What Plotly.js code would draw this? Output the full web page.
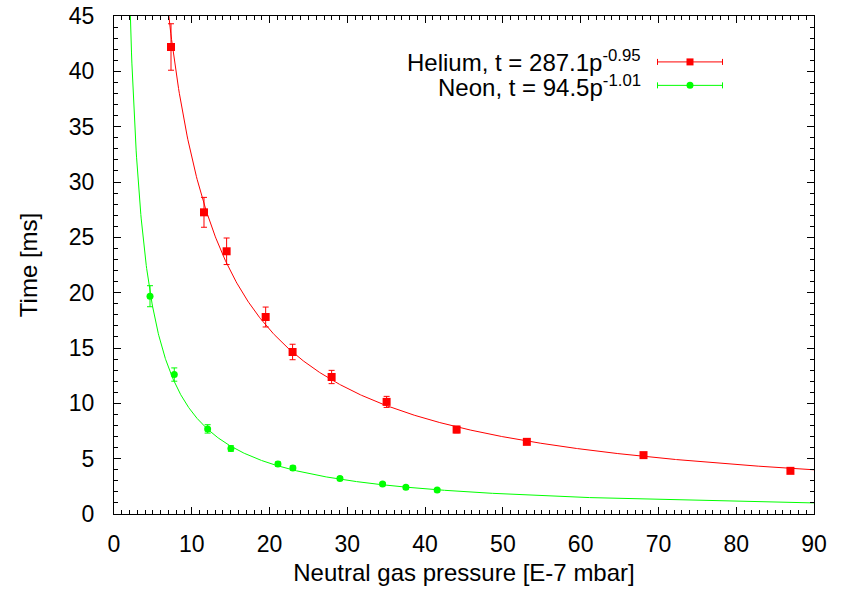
<!DOCTYPE html>
<html>
<head>
<meta charset="utf-8">
<script src="https://cdn.plot.ly/plotly-3.0.1.min.js"></script>
<style>html,body{margin:0;padding:0;background:#fff;}#chart{width:844px;height:590px;}</style>
</head>
<body>
<div id="chart"></div>
<script>
const heliumP   = [7.33, 11.57, 14.48, 19.5, 22.96, 27.98, 35.05, 44.05, 53.08, 68.08, 86.97];
const heliumT   = [42.2, 27.26, 23.74, 17.8, 14.64, 12.38, 10.13, 7.63, 6.52, 5.32, 3.9];
const heliumErr = [2.1, 1.35, 1.2, 0.9, 0.7, 0.6, 0.5, 0.3, 0.25, 0.2, 0.15];

const neonP   = [4.63, 7.75, 12.04, 15.03, 21.08, 23.0, 29.05, 34.53, 37.53, 41.55];
const neonT   = [19.68, 12.6, 7.69, 5.92, 4.51, 4.15, 3.21, 2.71, 2.41, 2.16];
const neonErr = [0.95, 0.6, 0.38, 0.25, 0.2, 0.2, 0.15, 0.15, 0.15, 0.15];

// Fit parameters shown in the legend: t = A * p^B
const heliumFit = {A: 287.1, B: -0.95};
const neonFit   = {A: 94.5,  B: -1.01};

const xTickVals = [0,10,20,30,40,50,60,70,80,90];
const yTickVals = [0,5,10,15,20,25,30,35,40,45];

const RED = '#ff0000', GREEN = '#00ff00';
const FONT = 'Liberation Sans, Arial, Helvetica, sans-serif';

function fitCurve(fit, p0, p1, step) {
  const xs = [], ys = [];
  for (let p = p0; p <= p1 + 1e-9; p += step) { xs.push(p); ys.push(fit.A * Math.pow(p, fit.B)); }
  return {xs, ys};
}
const heC = fitCurve(heliumFit, 6.5, 90, 0.1);
const neC = fitCurve(neonFit, 1.8, 90, 0.05);

const traces = [
  {x: heC.xs, y: heC.ys, mode: 'lines', line: {color: RED, width: 1}, hoverinfo: 'skip', showlegend: false},
  {x: neC.xs, y: neC.ys, mode: 'lines', line: {color: GREEN, width: 1}, hoverinfo: 'skip', showlegend: false},
  {x: heliumP, y: heliumT, mode: 'markers', marker: {symbol: 'square', size: 8, color: RED},
   error_y: {type: 'data', array: heliumErr, visible: true, color: RED, thickness: 1, width: 3}, showlegend: false, cliponaxis: false},
  {x: neonP, y: neonT, mode: 'markers', marker: {symbol: 'circle', size: 7, color: GREEN},
   error_y: {type: 'data', array: neonErr, visible: true, color: GREEN, thickness: 1, width: 3}, showlegend: false, cliponaxis: false},
  // legend samples (on a hidden overlay axis measured in plot pixels)
  {x: [576], y: [46], xaxis: 'x2', yaxis: 'y2', mode: 'markers', marker: {symbol: 'square', size: 7, color: RED},
   error_x: {type: 'data', array: [32.5], visible: true, color: RED, thickness: 1, width: 3}, showlegend: false, hoverinfo: 'skip'},
  {x: [576], y: [69.5], xaxis: 'x2', yaxis: 'y2', mode: 'markers', marker: {symbol: 'circle', size: 7, color: GREEN},
   error_x: {type: 'data', array: [32.5], visible: true, color: GREEN, thickness: 1, width: 3}, showlegend: false, hoverinfo: 'skip'}
];

const axisCommon = {
  showgrid: false, zeroline: false, showline: true, linecolor: '#000', linewidth: 1, mirror: 'ticks',
  ticks: 'inside', ticklen: 7, tickwidth: 1, tickcolor: '#000',
  tickfont: {family: FONT, size: 23, color: '#000'},
  minor: {dtick: 1, ticks: 'inside', ticklen: 4, tickwidth: 1, tickcolor: '#000'}
};

const layout = {
  width: 844, height: 590,
  margin: {l: 114, r: 30, t: 16, b: 76},
  paper_bgcolor: '#fff', plot_bgcolor: '#fff',
  font: {family: FONT, color: '#000'},
  showlegend: false,
  xaxis: Object.assign({}, axisCommon, {range: [0, 90], tickvals: xTickVals, ticktext: xTickVals.map(String),
    ticklabelstandoff: 9,
    title: {text: 'Neutral gas pressure [E-7 mbar]', font: {family: FONT, size: 24, color: '#000'}, standoff: 8}}),
  yaxis: Object.assign({}, axisCommon, {range: [0, 45], tickvals: yTickVals, ticktext: yTickVals.map(String),
    ticklabelstandoff: 14,
    title: {text: 'Time [ms]', font: {family: FONT, size: 24, color: '#000'}, standoff: 24}}),
  xaxis2: {overlaying: 'x', range: [0, 700], visible: false, fixedrange: true},
  yaxis2: {overlaying: 'y', range: [499, 0], visible: false, fixedrange: true},
  annotations: [
    {xref: 'paper', yref: 'paper', x: (643 - 114) / 700, y: 1 - (61 - 16) / 499, xanchor: 'right', yanchor: 'middle',
     text: 'Helium, t = 287.1p<sup>-0.95</sup>', showarrow: false, font: {family: FONT, size: 24, color: '#000'}},
    {xref: 'paper', yref: 'paper', x: (643 - 114) / 700, y: 1 - (86 - 16) / 499, xanchor: 'right', yanchor: 'middle',
     text: 'Neon, t = 94.5p<sup>-1.01</sup>', showarrow: false, font: {family: FONT, size: 24, color: '#000'}}
  ]
};

Plotly.newPlot('chart', traces, layout, {displayModeBar: false, staticPlot: true});
</script>
</body>
</html>
